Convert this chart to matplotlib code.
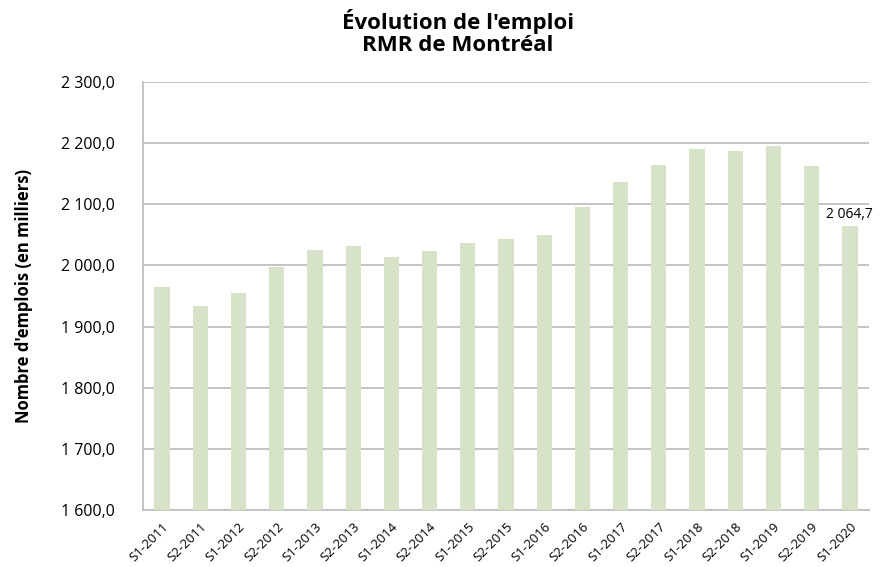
import matplotlib
matplotlib.use("Agg")
import matplotlib.pyplot as plt
from matplotlib.ticker import FuncFormatter

categories = ["S1-2011", "S2-2011", "S1-2012", "S2-2012", "S1-2013", "S2-2013",
              "S1-2014", "S2-2014", "S1-2015", "S2-2015", "S1-2016", "S2-2016",
              "S1-2017", "S2-2017", "S1-2018", "S2-2018", "S1-2019", "S2-2019",
              "S1-2020"]
values = [1965.5, 1934.0, 1955.7, 1996.7, 2025.3, 2031.2, 2013.7, 2023.2,
          2037.3, 2043.8, 2050.4, 2095.2, 2136.3, 2164.0, 2190.0, 2187.7,
          2195.4, 2162.4, 2064.7]
yticks = [1600, 1700, 1800, 1900, 2000, 2100, 2200, 2300]

plt.rcParams['font.family'] = ['Open Sans', 'DejaVu Sans']

fig = plt.figure(figsize=(8.81, 5.67), dpi=100)
ax = fig.add_axes([0.1623, 0.1005, 0.8241, 0.7549])

x = list(range(len(categories)))
ax.bar(x, values, width=0.4, color='#d7e3c8', zorder=3)

ax.set_xlim(-0.5, len(categories) - 0.5)
ax.set_ylim(1600, 2300)
ax.set_yticks(yticks)

def fmt(v, pos=None):
    s = f"{v:,.1f}"
    return s.replace(",", " ").replace(".", ",")

ax.yaxis.set_major_formatter(FuncFormatter(fmt))
ax.grid(axis='y', color='#bfbfbf', linewidth=1.3, zorder=0)
ax.set_axisbelow(True)

ax.set_xticks(x)
ax.set_xticklabels(categories, rotation=45, ha='right', rotation_mode='anchor',
                   fontsize=9.5)
ax.tick_params(axis='x', length=0, pad=7)
ax.tick_params(axis='y', length=0, pad=20, labelsize=11.5)

for s in ['top', 'right']:
    ax.spines[s].set_visible(False)
for s in ['left', 'bottom']:
    ax.spines[s].set_color('#bfbfbf')
    ax.spines[s].set_linewidth(1.3)

ax.text(x[-1], values[-1] + 6, fmt(values[-1]), ha='center', va='bottom',
        fontsize=10)

ax.set_ylabel("Nombre d'emplois (en milliers)", fontsize=12, fontweight='bold')
ax.yaxis.set_label_coords(-0.152, 0.5)

fig.suptitle("Évolution de l'emploi\nRMR de Montréal", fontsize=16,
             fontweight='bold', x=0.52, y=0.985, linespacing=1.1)

fig.savefig("out.png", dpi=100)
